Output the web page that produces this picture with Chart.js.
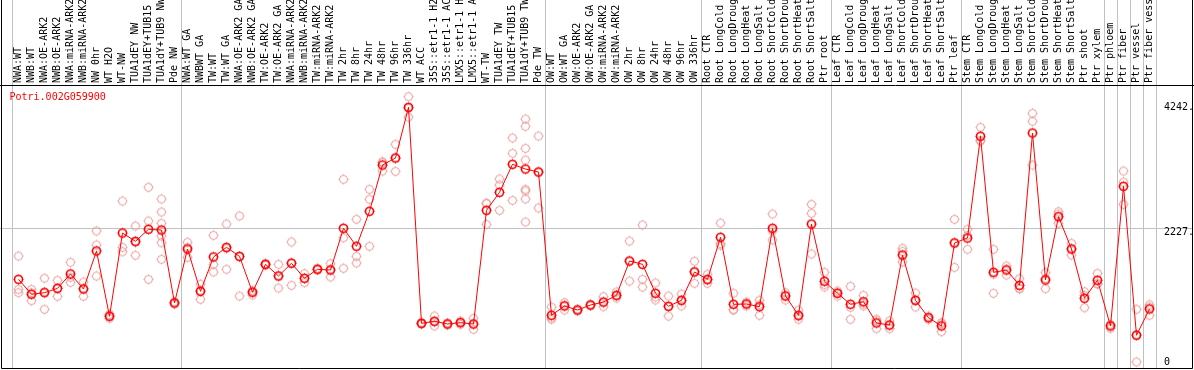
<!DOCTYPE html>
<html>
<head>
<meta charset="utf-8">
<script src="https://cdn.jsdelivr.net/npm/chart.js@4.4.0/dist/chart.umd.min.js"></script>
<style>
  html, body { margin: 0; padding: 0; background: #fff; }
</style>
</head>
<body>
<canvas id="chart" width="1194" height="370"></canvas>
<script>
const geneId = 'Potri.002G059900';

const samples = [
  'NWA:WT', 'NWB:WT', 'NWA:OE-ARK2', 'NWB:OE-ARK2', 'NWA:miRNA-ARK2', 'NWB:miRNA-ARK2', 'NW 0hr', 'WT H2O', 'WT-NW',
  'TUA1dEY NW', 'TUA1dEY+TUB15', 'TUA1dY+TUB9 NW', 'Pde NW',
  'NWA:WT GA', 'NWBWT GA', 'TW:WT', 'TW:WT GA', 'NWA:OE-ARK2 GA', 'NWB:OE-ARK2 GA', 'TW:OE-ARK2', 'TW:OE-ARK2 GA',
  'NWA:miRNA-ARK2', 'NWB:miRNA-ARK2', 'TW:miRNA-ARK2', 'TW:miRNA-ARK2', 'TW 2hr', 'TW 8hr', 'TW 24hr', 'TW 48hr',
  'TW 96hr', 'TW 336hr', 'WT ACC', '35S::etr1-1 H2', '35S::etr1-1 AC', 'LMX5::etr1-1 H', 'LMX5::etr1-1 A', 'WT-TW',
  'TUA1dEY TW', 'TUA1dEY+TUB15', 'TUA1dY+TUB9 TW', 'Pde TW',
  'OW:WT', 'OW:WT GA', 'OW:OE-ARK2', 'OW:OE-ARK2 GA', 'OW:miRNA-ARK2', 'OW:miRNA-ARK2', 'OW 2hr', 'OW 8hr',
  'OW 24hr', 'OW 48hr', 'OW 96hr', 'OW 336hr',
  'Root CTR', 'Root LongCold', 'Root LongDroug', 'Root LongHeat', 'Root LongSalt', 'Root ShortCold', 'Root ShortDrou',
  'Root ShortHeat', 'Root ShortSalt', 'Ptr root',
  'Leaf CTR', 'Leaf LongCold', 'Leaf LongDroug', 'Leaf LongHeat', 'Leaf LongSalt', 'Leaf ShortCold', 'Leaf ShortDrou',
  'Leaf ShortHeat', 'Leaf ShortSalt', 'Ptr leaf',
  'Stem CTR', 'Stem LongCold', 'Stem LongDroug', 'Stem LongHeat', 'Stem LongSalt', 'Stem ShortCold', 'Stem ShortDrou',
  'Stem ShortHeat', 'Stem ShortSalt', 'Ptr shoot', 'Ptr xylem',
  'Ptr phloem', 'Ptr fiber', 'Ptr vessel', 'Ptr fiber vess'
];

// index of the first sample of each group (last entry = end)
const groupStarts = [0, 13, 41, 53, 63, 73, 84, 85, 86, 87, 88];

const means = [
  1377, 1128, 1154, 1227, 1466, 1216, 1849, 761, 2148, 2010, 2210, 2198, 983,
  1882, 1177, 1749, 1910, 1760, 1161, 1627, 1432, 1644, 1394, 1544, 1532, 2227, 1927, 2510, 3281,
  3398, 4242, 644, 678, 633, 655, 633, 2526, 2826, 3293, 3214, 3164,
  778, 933, 866, 949, 999, 1111, 1682, 1627, 1144, 928, 1028, 1499,
  1377, 2077, 961, 966, 921, 2227, 1099, 778, 2298, 1344,
  1144, 961, 1004, 650, 616, 1782, 1028, 738, 600, 1982,
  2065, 3759, 1494, 1532, 1277, 3814, 1366, 2420, 1882, 1061, 1361,
  600, 2926, 445, 883
];

const rep1 = [
  1765, 1211, 1394, 1361, 1661, 1332, 2182, 728, 2681, 2265, 2910, 2715, 1000,
  1994, 1294, 2110, 2298, 2432, 1116, 1610, 1627, 1999, 1471, 1530, 1637, 3043, 2377, 2876, 3331,
  3626, 4420, 660, 766, 650, 683, 728, 2648, 3048, 3731, 4047, 3764,
  916, 988, 880, 960, 1088, 1166, 2015, 2282, 1316, 1099, 1133, 1677,
  1461, 2315, 1144, 999, 1028, 2465, 1154, 866, 2626, 1494,
  1183, 1261, 1111, 711, 683, 1894, 1149, 766, 655, 2377,
  2210, 3909, 1877, 1599, 1388, 4142, 1488, 2503, 1977, 1171, 1477,
  628, 3181, 878, 954
];

const rep2 = [
  1211, 1021, 1171, 1094, 1327, 1094, 1949, 794, 1910, 1777, 2348, 2498, 983,
  1744, 1044, 1627, 1544, 1099, 1183, 1627, 1232, 1277, 1321, 1544, 1416, 2070, 1760, 2710, 3181,
  3176, 4080, 644, 600, 633, 655, 544, 2293, 2948, 3476, 3926, 2565,
  711, 866, 866, 949, 921, 1066, 1349, 1377, 1033, 766, 933, 1311,
  1311, 1944, 866, 933, 778, 2032, 1033, 711, 2476, 1249,
  1099, 711, 933, 555, 555, 1844, 916, 711, 505, 1577,
  1877, 3681, 1144, 1449, 1227, 4009, 1221, 2465, 1782, 904, 1299,
  561, 2998, 0, 778
];

const rep3 = [
  1154, 1152, 878, 1226, 1410, 1222, 1432, 766, 1837, 1988, 1377, 2310, 966,
  1908, 1193, 1499, 1888, 1749, 1183, 1644, 1437, 1656, 1390, 1560, 1543, 1561, 1649, 1927, 3331,
  3392, 4226, 628, 668, 616, 627, 627, 2637, 2526, 2693, 3559, 3163,
  738, 945, 852, 938, 988, 1101, 1682, 1249, 1083, 919, 1018, 1509,
  1359, 1972, 873, 966, 957, 2184, 1110, 757, 1799, 1289,
  1150, 911, 968, 684, 610, 1666, 1019, 738, 640, 1992,
  2108, 3687, 1461, 1548, 1216, 3281, 1389, 2310, 1887, 1108, 1307,
  611, 2626, 457, 916
];

// samples with more than three replicates: [sample index, value]
const extraReps = [
  [11, 2099], [11, 1987], [11, 1710],
  [39, 3364], [39, 2876], [39, 2848], [39, 2715], [39, 2332]
];

const yTickValues = [0, 2227, 4242];
const yGridValue = 2227;
const yMin = -100;
const yMax = 4597;

const lineColor = '#ff0000';
const repColor = '#ec9a9a';
const gridColor = '#c0c0c0';
const yFont = { family: 'DejaVu Sans Mono', size: 10, lineHeight: 0.8 };

// spread the extra replicates over rows of the same length as samples
const extraRows = [];
extraReps.forEach(([i, v]) => {
	let row = extraRows.find(r => r[i] === null);
	if (!row) {
		row = samples.map(() => null);
		extraRows.push(row);
	}
	row[i] = v;
});

function makeMarker(color, width) {
	const c = document.createElement('canvas');
	c.width = 13;
	c.height = 13;
	const g = c.getContext('2d');
	g.strokeStyle = color;
	g.lineWidth = width;
	g.beginPath();
	g.arc(6.5, 6.5, 4, 0, Math.PI * 2);
	g.stroke();
	g.lineWidth = 1;
	g.beginPath();
	g.moveTo(6.5, 1.5); g.lineTo(6.5, 2.5);
	g.moveTo(6.5, 10.5); g.lineTo(6.5, 11.5);
	g.moveTo(1.5, 6.5); g.lineTo(2.5, 6.5);
	g.moveTo(10.5, 6.5); g.lineTo(11.5, 6.5);
	g.stroke();
	return c;
}

const meanMarker = makeMarker(lineColor, 1.6);
const repMarker = makeMarker(repColor, 1);

// sample names, written upwards above the plot
const sampleLabels = {
	id: 'sampleLabels',
	afterDraw(chart) {
		const g = chart.ctx;
		const x = chart.scales.x;
		g.save();
		g.fillStyle = '#000';
		g.font = '10px "DejaVu Sans Mono"';
		g.textAlign = 'left';
		g.textBaseline = 'middle';
		samples.forEach((s, i) => {
			g.save();
			g.translate(x.getPixelForTick(i), chart.chartArea.top - 3);
			g.rotate(-Math.PI / 2);
			g.fillText(s, 0, 0);
			g.restore();
		});
		g.restore();
	}
};

const framePlugin = {
	id: 'frame',
	afterDraw(chart) {
		const g = chart.ctx;
		const a = chart.chartArea;
		g.save();
		g.strokeStyle = '#000';
		g.lineWidth = 1;
		g.beginPath();
		g.moveTo(1.5, 0);
		g.lineTo(1.5, chart.height - 1.5);
		g.lineTo(chart.width - 1.5, chart.height - 1.5);
		g.lineTo(chart.width - 1.5, 0);
		g.moveTo(0, a.top - 0.5);
		g.lineTo(chart.width, a.top - 0.5);
		g.stroke();
		g.fillStyle = lineColor;
		g.font = '10px "DejaVu Sans Mono"';
		g.textBaseline = 'middle';
		g.fillText(geneId, a.left - 2.5, a.top + 11);
		g.restore();
	}
};

const repSets = [rep1, rep2, rep3, ...extraRows].map(d => ({
	data: d,
	showLine: false,
	pointStyle: repMarker,
	pointRadius: 6,
	clip: false
}));

new Chart(document.getElementById('chart'), {
	type: 'line',
	data: {
		labels: samples,
		datasets: [{
			label: geneId,
			data: means,
			borderColor: lineColor,
			borderWidth: 1,
			pointStyle: meanMarker,
			pointRadius: 6,
			tension: 0,
			clip: false
		}, ...repSets]
	},
	options: {
		responsive: false,
		animation: false,
		devicePixelRatio: 1,
		events: [],
		layout: { autoPadding: false, padding: { bottom: 2 } },
		plugins: {
			legend: { display: false },
			tooltip: { enabled: false }
		},
		scales: {
			x: {
				position: 'top',
				offset: true,
				grid: {
					offset: true,
					tickLength: 86,
					color: ctx => groupStarts.includes(ctx.type === 'tick' ? ctx.index : samples.length) ? gridColor : 'rgba(0,0,0,0)'
				},
				border: { display: false },
				ticks: { display: false, autoSkip: false },
				afterFit: s => { s.height = 86; }
			},
			y: {
				position: 'right',
				min: yMin,
				max: yMax,
				afterBuildTicks: s => { s.ticks = yTickValues.map(v => ({ value: v })); },
				grid: {
					tickLength: 37,
					color: ctx => ctx.tick && ctx.tick.value === yGridValue ? gridColor : 'rgba(0,0,0,0)'
				},
				border: { display: false },
				ticks: {
					padding: -29,
					color: '#000',
					font: yFont,
					callback: v => v === 0 ? '0' : (v === yGridValue ? ['', v + '.'] : v + '.')
				},
				afterFit: s => { s.width = 38; }
			},
			yLeft: {
				position: 'left',
				min: yMin,
				max: yMax,
				afterBuildTicks: s => { s.ticks = [{ value: yGridValue }]; },
				grid: { drawOnChartArea: false, tickLength: 12, color: gridColor },
				border: { display: false },
				ticks: { display: false },
				afterFit: s => { s.width = 12; }
			}
		}
	},
	plugins: [sampleLabels, framePlugin]
});
</script>
</body>
</html>
